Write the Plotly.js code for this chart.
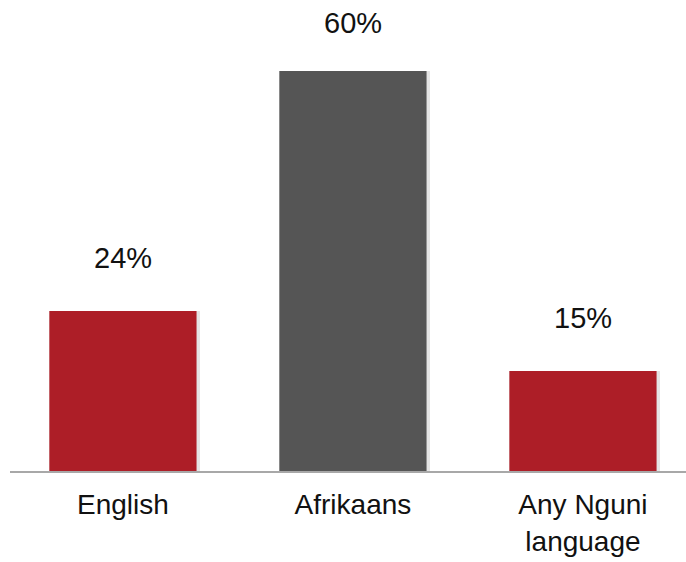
<!DOCTYPE html>
<html>
<head>
<meta charset="utf-8">
<script src="https://cdn.plot.ly/plotly-3.0.1.min.js"></script>
<style>html,body{margin:0;padding:0;background:#fff;}#chart{width:686px;height:562px;}</style>
</head>
<body>
<div id="chart"></div>
<script>
const categories = ["English", "Afrikaans", "Any Nguni<br>language"];
const values = [24, 60, 15];
const valueLabels = ["24%", "60%", "15%"];
const barColors = ["#ad1e27", "#555555", "#ad1e27"];

const FONT = "Liberation Sans, Arial, sans-serif";

const shadow = {
  type: "bar",
  x: categories,
  y: values,
  width: 0.655,
  offset: -0.32,
  marker: { color: "rgba(0,0,0,0.10)", line: { width: 0 } },
  hoverinfo: "none"
};

const trace = {
  type: "bar",
  x: categories,
  y: values,
  width: 0.64,
  marker: { color: barColors, line: { width: 0 } },
  hoverinfo: "none"
};

const annotations = categories.map((c, i) => ({
  x: c, y: values[i], xref: "x", yref: "y",
  text: valueLabels[i], showarrow: false,
  yanchor: "middle", yshift: values[i] > 50 ? 48 : 53,
  font: { family: FONT, size: 29, color: "#111111" }
}));

const layout = {
  width: 686, height: 562,
  margin: { l: 10, r: 0, t: 0, b: 91 },
  paper_bgcolor: "#ffffff", plot_bgcolor: "#ffffff",
  showlegend: false,
  barmode: "overlay",
  xaxis: {
    type: "category",
    range: [-0.491, 2.448],
    showline: true, linecolor: "#a8a8a8", linewidth: 1.5,
    showgrid: false, zeroline: false, ticks: "",
    ticklabelstandoff: 8,
    tickfont: { family: FONT, size: 28, color: "#111111" }
  },
  yaxis: {
    range: [0, 70.65], visible: false, showgrid: false, zeroline: false
  },
  annotations: annotations
};

Plotly.newPlot("chart", [shadow, trace], layout, { staticPlot: true });
</script>
</body>
</html>
